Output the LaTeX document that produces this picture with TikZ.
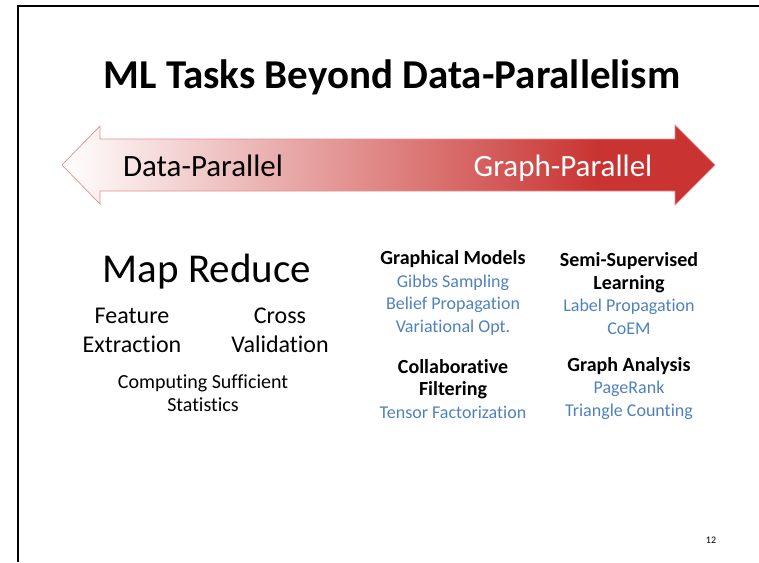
\documentclass[tikz,border=0pt]{standalone}
\usepackage{fontspec}
\setmainfont[Ligatures=NoCommon]{Carlito}
\usetikzlibrary{positioning}
\definecolor{arrowred}{RGB}{201,52,50}
\definecolor{itemblue}{RGB}{79,129,189}
\pgfdeclarehorizontalshading{redfade}{100bp}{color(0bp)=(white); color(25bp)=(white); color(66bp)=(arrowred); color(100bp)=(arrowred)}
\newcommand{\mltask}[1]{{\color{itemblue}#1}}
\newcommand{\mlhead}[1]{{\fontsize{20}{22.5}\selectfont\bfseries #1}}

\begin{document}
\begin{tikzpicture}[x=1pt, y=-1pt,
    every node/.style = {inner sep=0pt, align=center, anchor=base},
    plain/.style = {font=\fontsize{24}{29}\selectfont},
    group/.style = {font=\fontsize{18}{22.5}\selectfont}]
  \useasboundingbox (0,0) rectangle (759,562);
  % Slide frame
  \draw[line width=2pt] (18,562) -- (18,6) -- (759,6);

  % Title
  \node(title)[font=\fontsize{41}{44}\selectfont\bfseries] at (392,88) {ML Tasks Beyond Data-Parallelism};

  % Double arrow with fading red fill
  \shadedraw[shading=redfade, draw=arrowred!55, line width=0.7pt]
    (62,165) -- (100,126) -- (100,139) -- (675,139) -- (675,125) -- (715,165)
    -- (675,205) -- (675,191) -- (100,191) -- (100,204) -- cycle;
  \node(dataside)[font=\fontsize{31}{34}\selectfont] at (203,176) {Data-Parallel};
  \node(graphside)[font=\fontsize{31}{34}\selectfont, text=white] at (563,176) {Graph-Parallel};

  % Data-parallel side (base = last line)
  \node(mapreduce)[font=\fontsize{41}{44}\selectfont] at (207,282) {Map Reduce};
  \node(feature)[plain] at (132,352) {Feature\\Extraction};
  \node(crossval)[plain] at (280,352) {Cross\\Validation};
  \node(suffstats)[font=\fontsize{20}{23}\selectfont] at (203,411) {Computing Sufficient\\Statistics};

  % Graph-parallel side
  \node(graphmodels)[group] at (453,332) {\mlhead{Graphical Models}\\ \mltask{Gibbs Sampling}\\ \mltask{Belief Propagation}\\ \mltask{Variational Opt.}};
  \node(collab)[group] at (453,418) {\mlhead{Collaborative}\\ \mlhead{Filtering}\\ \mltask{Tensor Factorization}};
  \node(semisup)[group] at (629,334) {\mlhead{Semi-Supervised}\\ \mlhead{Learning}\\ \mltask{Label Propagation}\\ \mltask{CoEM}};
  \node(graphanal)[group] at (629,416) {\mlhead{Graph Analysis}\\ \mltask{PageRank}\\ \mltask{Triangle Counting}};

  % Slide number
  \node(slideno)[font=\fontsize{10}{12}\selectfont] at (711,543) {12};
\end{tikzpicture}
\end{document}
